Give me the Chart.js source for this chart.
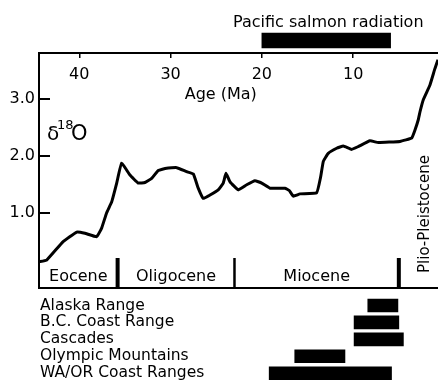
<!DOCTYPE html>
<html>
<head>
<meta charset="utf-8">
<script src="https://cdn.jsdelivr.net/npm/chart.js@4.4.1/dist/chart.umd.min.js"></script>
<style>
  html, body { margin: 0; padding: 0; background: #fff; }
  #wrap { position: relative; width: 438px; height: 392px; }
  #wrap canvas { position: absolute; left: 0; top: 0; }
</style>
</head>
<body>
<div id="wrap">
  <canvas id="main" width="438" height="392"></canvas>
  <canvas id="salmon" width="438" height="392"></canvas>
  <canvas id="ranges" width="438" height="392"></canvas>
</div>
<script>
// oxygen isotope curve, age in Ma
const ages = [44.41, 43.57, 41.79, 40.28, 39.38, 38.09, 37.55, 37.00, 36.45, 35.90,
  35.36, 34.45, 33.54, 32.80, 32.07, 31.35, 30.43, 29.33, 28.24, 27.51,
  26.97, 26.42, 25.68, 24.78, 24.23, 23.93, 23.49, 22.58, 21.66, 20.76,
  20.02, 19.11, 17.47, 17.00, 16.56, 15.83, 14.00, 13.56, 13.27, 12.73,
  11.81, 11.08, 10.16, 9.44, 8.16, 7.25, 4.87, 3.59, 3.23, 2.87,
  2.68, 2.32, 1.59, 1.04, 0.71];
const d18O = [0.15, 0.18, 0.50, 0.67, 0.65, 0.59, 0.74, 1.01, 1.20, 1.53,
  1.88, 1.67, 1.53, 1.54, 1.61, 1.75, 1.79, 1.80, 1.73, 1.69,
  1.44, 1.26, 1.32, 1.41, 1.53, 1.70, 1.55, 1.41, 1.50, 1.57,
  1.53, 1.44, 1.44, 1.40, 1.30, 1.34, 1.36, 1.64, 1.91, 2.05,
  2.14, 2.18, 2.12, 2.17, 2.27, 2.24, 2.26, 2.32, 2.46, 2.64,
  2.78, 2.99, 3.25, 3.54, 3.69];

const ageTicks = [40, 30, 20, 10];
const d18OTicks = [1, 2, 3];

const epochNames = ['Eocene', 'Oligocene', 'Miocene', 'Plio-Pleistocene'];
const epochStart = [44.41, 35.8, 23.0, 5.0];
const epochEnd = [35.8, 23.0, 5.0, 0];

const salmonLabel = 'Pacific salmon radiation';
const salmonStart = 20.0;
const salmonEnd = 5.9;

const ranges = ['Alaska Range', 'B.C. Coast Range', 'Cascades', 'Olympic Mountains', 'WA/OR Coast Ranges'];
const rangeStart = [8.4, 9.9, 9.9, 16.4, 19.2];
const rangeEnd = [5.1, 5.0, 4.5, 10.9, 5.8];

const ageMin = 0.71;
const ageMax = 44.41;

const ink = '#000';
const fam = '"DejaVu Sans", sans-serif';
Chart.defaults.font.family = fam;
Chart.defaults.color = ink;

const noPlugins = { legend: { display: false }, tooltip: { enabled: false } };

// text and epoch dividers inside the main frame
const annotations = {
  id: 'annotations',
  afterDraw(chart) {
    const { ctx, chartArea: area, scales: { x } } = chart;
    const divWidths = [4, 2.5, 4];
    ctx.save();
    ctx.fillStyle = ink;
    ctx.strokeStyle = ink;

    epochStart.slice(1).forEach((a, i) => {
      const px = x.getPixelForValue(a);
      ctx.lineWidth = divWidths[i];
      ctx.beginPath();
      ctx.moveTo(px, area.bottom - 30);
      ctx.lineTo(px, area.bottom);
      ctx.stroke();
    });

    ctx.textAlign = 'center';
    epochNames.forEach((name, i) => {
      const cx = (x.getPixelForValue(epochStart[i]) + x.getPixelForValue(epochEnd[i])) / 2;
      if (i === epochNames.length - 1) {
        ctx.save();
        ctx.font = '15px ' + fam;
        ctx.textBaseline = 'middle';
        ctx.translate(cx + 3, area.bottom - 74);
        ctx.rotate(-Math.PI / 2);
        ctx.fillText(name, 0, 0);
        ctx.restore();
      } else {
        ctx.font = '16px ' + fam;
        ctx.textBaseline = 'alphabetic';
        ctx.fillText(name, cx, area.bottom - 7);
      }
    });

    ctx.font = '16px ' + fam;
    ctx.fillText('Age (Ma)', x.getPixelForValue(24.5), area.top + 46);

    ctx.textAlign = 'left';
    ctx.font = '20px ' + fam;
    ctx.fillText('\u03b4', area.left + 8, area.top + 87);
    ctx.font = '13px ' + fam;
    ctx.fillText('18', area.left + 18, area.top + 76);
    ctx.font = '21px ' + fam;
    ctx.fillText('O', area.left + 32, area.top + 87);
    ctx.restore();
  }
};

new Chart(document.getElementById('main'), {
  type: 'line',
  data: {
    datasets: [{
      data: ages.map((a, i) => ({ x: a, y: d18O[i] })),
      borderColor: ink,
      borderWidth: 3,
      borderJoinStyle: 'round',
      pointRadius: 0,
      tension: 0.1
    }]
  },
  options: {
    responsive: false,
    animation: false,
    layout: { padding: { top: 53, bottom: 104, left: 0, right: 0 } },
    plugins: noPlugins,
    scales: {
      x: {
        type: 'linear',
        position: 'top',
        reverse: true,
        min: ageMin,
        max: ageMax,
        afterFit: s => { s.height = 0; },
        afterBuildTicks: s => { s.ticks = ageTicks.map(v => ({ value: v })); },
        ticks: { mirror: true, padding: 12, font: { size: 16 }, color: ink, maxRotation: 0, autoSkip: false },
        grid: { drawOnChartArea: false, tickLength: -5, color: ink, lineWidth: 1.5 },
        border: { color: ink, width: 2 }
      },
      y: {
        min: -0.31,
        max: 3.81,
        afterFit: s => { s.width = 39; },
        afterBuildTicks: s => { s.ticks = d18OTicks.map(v => ({ value: v })); },
        ticks: { padding: 15, font: { size: 16 }, color: ink, callback: v => v.toFixed(1) },
        grid: { drawOnChartArea: false, tickLength: -11, color: ink, lineWidth: 2 },
        border: { color: ink, width: 2 }
      },
      xb: {
        type: 'linear',
        position: 'bottom',
        afterFit: s => { s.height = 0; },
        ticks: { display: false },
        grid: { drawOnChartArea: false, drawTicks: false },
        border: { color: ink, width: 2 }
      }
    }
  },
  plugins: [annotations]
});

// label centred over the salmon bar
const barTitle = {
  id: 'barTitle',
  afterDatasetsDraw(chart) {
    const bar = chart.getDatasetMeta(0).data[0];
    const { ctx } = chart;
    ctx.save();
    ctx.fillStyle = ink;
    ctx.font = '16px ' + fam;
    ctx.textAlign = 'center';
    ctx.textBaseline = 'alphabetic';
    ctx.fillText(salmonLabel, (bar.x + bar.base) / 2 + 2, bar.y - bar.height / 2 - 6);
    ctx.restore();
  }
};

new Chart(document.getElementById('salmon'), {
  type: 'bar',
  data: {
    labels: [salmonLabel],
    datasets: [{ data: [[salmonStart, salmonEnd]], backgroundColor: ink, barThickness: 15 }]
  },
  options: {
    indexAxis: 'y',
    responsive: false,
    animation: false,
    layout: { padding: { top: 30, bottom: 341, left: 39, right: 0 } },
    plugins: noPlugins,
    scales: {
      x: { type: 'linear', display: false, reverse: true, min: ageMin, max: ageMax },
      y: { display: false }
    }
  },
  plugins: [barTitle]
});

new Chart(document.getElementById('ranges'), {
  type: 'bar',
  data: {
    labels: ranges,
    datasets: [{
      data: ranges.map((r, i) => [rangeStart[i], rangeEnd[i]]),
      backgroundColor: ink,
      barThickness: 13
    }]
  },
  options: {
    indexAxis: 'y',
    responsive: false,
    animation: false,
    layout: { padding: { top: 297, bottom: 1, left: 0, right: 0 } },
    plugins: noPlugins,
    scales: {
      x: { type: 'linear', display: false, reverse: true, min: ageMin, max: ageMax },
      y: {
        afterFit: s => { s.width = 39; },
        ticks: { mirror: true, padding: 1, font: { size: 15.5 }, color: ink, autoSkip: false },
        grid: { display: false },
        border: { display: false }
      }
    }
  }
});
</script>
</body>
</html>
